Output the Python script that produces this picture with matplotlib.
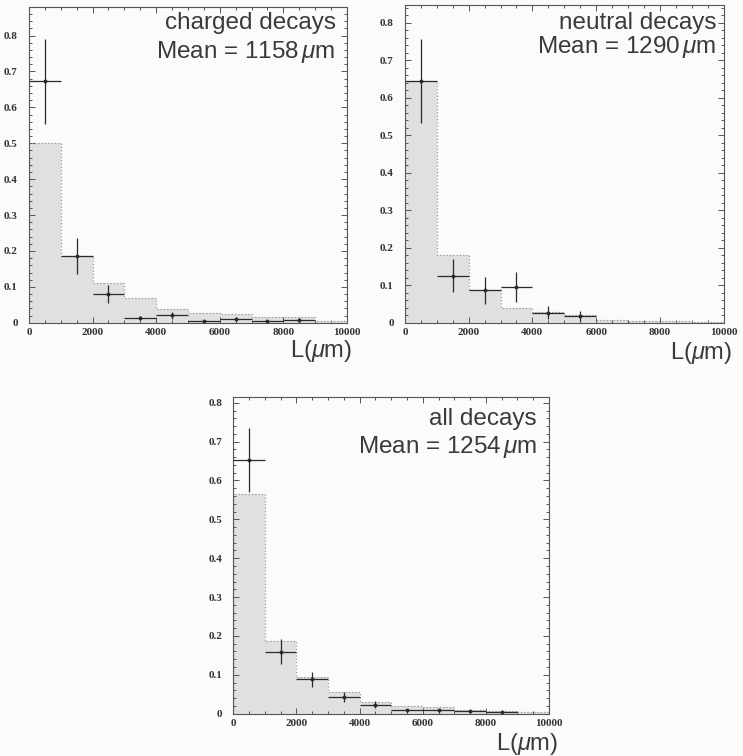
import numpy as np
import matplotlib
matplotlib.use("Agg")
import matplotlib.pyplot as plt
from matplotlib.ticker import MultipleLocator

plt.rcParams["mathtext.fontset"] = "custom"
plt.rcParams["mathtext.rm"] = "Liberation Sans"
plt.rcParams["mathtext.it"] = "Liberation Sans:italic"

# ---- data ----
bin_edges = np.arange(0, 11000, 1000)
bin_centres = bin_edges[:-1] + 500

# MC histograms (shaded)
mc_charged = [0.500, 0.185, 0.111, 0.069, 0.039, 0.028, 0.025, 0.017, 0.015, 0.004]
mc_neutral = [0.645, 0.182, 0.087, 0.040, 0.030, 0.020, 0.008, 0.006, 0.004, 0.002]
mc_all     = [0.564, 0.186, 0.094, 0.055, 0.029, 0.019, 0.016, 0.010, 0.008, 0.003]

# corrected data points (value, error)
data_charged = [0.673, 0.185, 0.080, 0.014, 0.021, 0.005, 0.011, 0.005, 0.008]
err_charged  = [0.118, 0.050, 0.025, 0.006, 0.009, 0.003, 0.006, 0.004, 0.005]
data_neutral = [0.644, 0.126, 0.087, 0.095, 0.027, 0.018]
err_neutral  = [0.112, 0.044, 0.036, 0.040, 0.018, 0.013]
data_all     = [0.652, 0.159, 0.088, 0.042, 0.023, 0.009, 0.009, 0.006, 0.004]
err_all      = [0.082, 0.032, 0.019, 0.013, 0.009, 0.004, 0.004, 0.003, 0.003]

titles = ["charged decays", "neutral decays", "all decays"]
means = [1158, 1290, 1254]
ymax = [0.88, 0.846, 0.815]

# axes rectangles in figure fraction
rects = [
    [0.039, 0.573, 0.428, 0.418],
    [0.545, 0.573, 0.429, 0.420],
    [0.314, 0.056, 0.425, 0.419],
]
# text placement (axes fraction): line1 top, line2 baseline, right edge, xlabel x, xlabel y
txt_pos = [
    (0.984, 0.839, 0.965, 1.016, -0.108),
    (0.978, 0.850, 0.978, 1.025, -0.115),
    (0.965, 0.823, 0.962, 1.028, -0.116),
]

mc_list = [mc_charged, mc_neutral, mc_all]
data_list = [data_charged, data_neutral, data_all]
err_list = [err_charged, err_neutral, err_all]

fig = plt.figure(figsize=(7.43, 7.56), dpi=100)
fig.patch.set_facecolor("#fbfbfa")

text_col = "#3a3a3a"
for i in range(3):
    ax = fig.add_axes(rects[i])
    ax.set_facecolor("#fbfbfa")
    mc = mc_list[i]
    ax.bar(bin_edges[:-1], mc, width=1000, align="edge", color="#e0e0e0",
           edgecolor="none", zorder=1)
    ax.stairs(mc, bin_edges, color="#9a9a9a", linestyle=":", linewidth=0.9, zorder=2)

    d = data_list[i]
    n = len(d)
    ax.errorbar(bin_centres[:n], d, xerr=500, yerr=err_list[i], fmt="o",
                markersize=1.8, color="#2a2a2a", ecolor="#2a2a2a",
                elinewidth=0.9, capsize=0, zorder=3)

    ax.set_xlim(0, 10000)
    ax.set_ylim(0, ymax[i])
    ax.xaxis.set_minor_locator(MultipleLocator(500))
    ax.yaxis.set_minor_locator(MultipleLocator(0.02))
    ax.set_yticks(np.arange(0, 0.81, 0.1))
    ax.set_yticklabels(["0"] + ["%.1f" % v for v in np.arange(0.1, 0.81, 0.1)])
    ax.set_xticks(np.arange(0, 10001, 2000))
    ax.set_xticklabels([str(v) for v in range(0, 10001, 2000)])
    ax.tick_params(which="both", direction="in", top=True, right=True,
                   color="#555555", width=0.7)
    ax.tick_params(which="major", length=4)
    ax.tick_params(which="minor", length=2)
    ax.tick_params(axis="y", pad=8)
    ax.tick_params(axis="x", pad=4)
    for lab in ax.get_xticklabels() + ax.get_yticklabels():
        lab.set_fontfamily("Liberation Serif")
        lab.set_fontweight("bold")
        lab.set_fontsize(8)
        lab.set_color("#333333")
    for sp in ax.spines.values():
        sp.set_color("#555555")
        sp.set_linewidth(0.8)

    t1, t2, tx, lx, ly = txt_pos[i]
    ax.text(tx, t1, titles[i], transform=ax.transAxes, ha="right", va="top",
            fontsize=17.5, family="Liberation Sans", color=text_col, zorder=4)
    ax.text(tx, t2, "Mean = %d$\\,\\mu$m" % means[i], transform=ax.transAxes,
            ha="right", va="baseline", fontsize=17.5, family="Liberation Sans",
            color=text_col, zorder=4)
    ax.text(lx, ly, "L($\\mu$m)", transform=ax.transAxes, ha="right",
            va="baseline", fontsize=17, family="Liberation Sans",
            color=text_col, clip_on=False)

fig.savefig("out.png", dpi=100, facecolor=fig.get_facecolor())
